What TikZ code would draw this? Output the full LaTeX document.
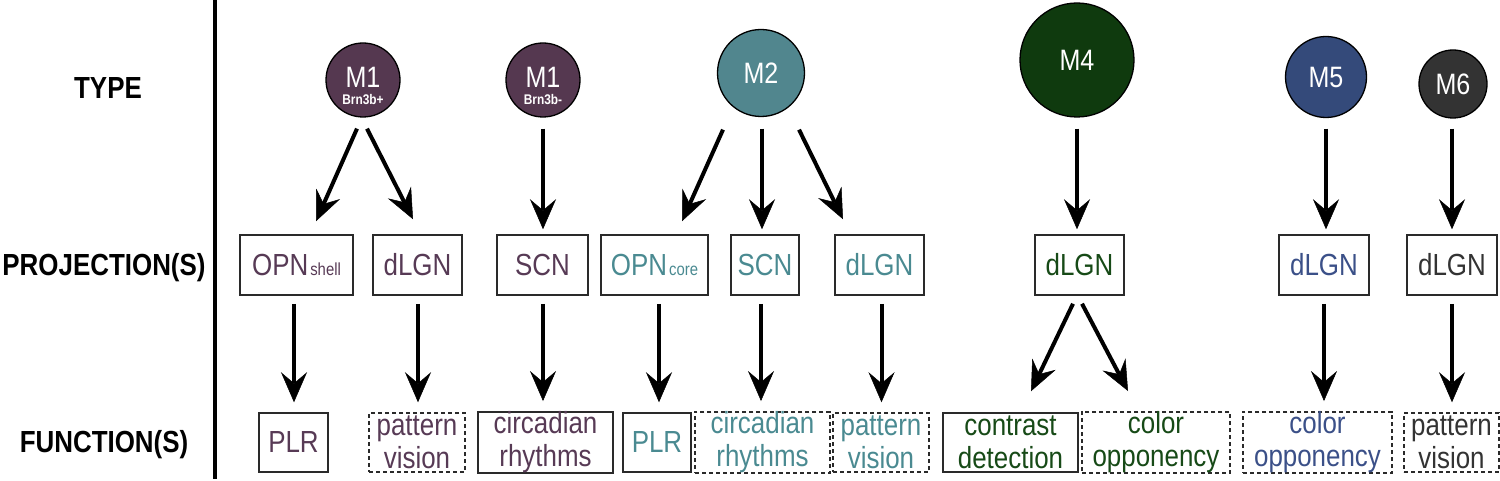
\documentclass[tikz,border=0pt]{standalone}
\usepackage{fontspec}
\setmainfont[FakeStretch=0.85]{Liberation Sans}
\usetikzlibrary{arrows.meta}
\definecolor{cM1}{HTML}{553850}
\definecolor{tM1}{HTML}{573A55}
\definecolor{cM2}{HTML}{51868E}
\definecolor{tM2}{HTML}{4A8A91}
\definecolor{cM4}{HTML}{0F3A0E}
\definecolor{tM4}{HTML}{174A17}
\definecolor{cM5}{HTML}{344A7A}
\definecolor{tM5}{HTML}{3B5088}
\definecolor{cM6}{HTML}{333333}
\definecolor{tM6}{HTML}{333333}
\definecolor{boxline}{HTML}{2A2A2A}
\begin{document}
\begin{tikzpicture}[x=1pt,y=-1pt,
  typ/.style={circle, draw=black, line width=1.3pt, inner sep=0pt, text=white, font=\fontsize{29.5}{30}\selectfont},
  mtxt/.style={text=white, inner sep=0pt, font=\fontsize{29.5}{30}\selectfont},
  sub/.style={text=white, inner sep=0pt, font=\bfseries\fontsize{14}{14}\selectfont},
  proj/.style={draw=boxline, line width=1.5pt, inner sep=0pt, minimum height=60pt, font=\fontsize{30.5}{33}\selectfont},
  func/.style={draw=boxline, line width=1.5pt, inner sep=0pt, minimum height=59pt, align=center, font=\fontsize{30.5}{33}\selectfont},
  dfunc/.style={func, dash pattern=on 4pt off 3pt},
  arr/.style={line width=4pt, -{Stealth[length=30pt,width=26pt,inset=11pt,line width=0.5pt]}},
  lab/.style={inner sep=0pt, font=\bfseries\fontsize{30.5}{31}\selectfont}
]
\useasboundingbox (0,0) rectangle (1500,481);

% left labels and separator
\node[lab] (ltype) at (108,88) {TYPE};
\node[lab] (lproj) at (104,268) {PROJECTION(S)};
\node[lab] (lfunc) at (104,445) {FUNCTION(S)};
\coordinate (sepT) at (215,0);
\coordinate (sepB) at (215,479);
\draw[line width=3.5pt] (sepT) -- (sepB);

% type circles
\node[typ, fill=cM1, minimum size=74pt] (m1a) at (363,80) {};
\node[mtxt] (m1at) at (363,77) {M1};
\node[sub] (m1as) at (363,100) {Brn3b+};
\node[typ, fill=cM1, minimum size=74pt] (m1b) at (543,80) {};
\node[mtxt] (m1bt) at (543,77) {M1};
\node[sub] (m1bs) at (543,100) {Brn3b-};
\node[typ, fill=cM2, minimum size=87pt] (m2) at (761,73) {M2};
\node[typ, fill=cM4, minimum size=114pt] (m4) at (1077,60) {M4};
\node[typ, fill=cM5, minimum size=81pt] (m5) at (1326,77) {M5};
\node[typ, fill=cM6, minimum size=68pt] (m6) at (1453,84) {M6};

% projection boxes
\node[proj, text=tM1, minimum width=113pt] (p1) at (296.5,265) {OPN\kern2pt{\fontsize{17.5}{18}\selectfont shell}};
\node[proj, text=tM1, minimum width=89pt] (p2) at (417.5,265) {dLGN};
\node[proj, text=tM1, minimum width=91pt] (p3) at (542.5,265) {SCN};
\node[proj, text=tM2, minimum width=107pt] (p4) at (654.5,265) {OPN\kern2pt{\fontsize{17.5}{18}\selectfont core}};
\node[proj, text=tM2, minimum width=68pt] (p5) at (765,265) {SCN};
\node[proj, text=tM2, minimum width=89pt] (p6) at (879.5,265) {dLGN};
\node[proj, text=tM4, minimum width=89pt] (p7) at (1079.5,265) {dLGN};
\node[proj, text=tM5, minimum width=90pt] (p8) at (1324,265) {dLGN};
\node[proj, text=tM6, minimum width=90pt] (p9) at (1452,265) {dLGN};

% function boxes
\node[func, text=tM1, minimum width=69pt] (f1) at (293.5,442.5) {PLR};
\node[dfunc, text=tM1, minimum width=96pt] (f2) at (417,442.5) {pattern\\vision};
\node[func, text=tM1, minimum width=135pt] (f3) at (545.5,442.5) {circadian\\rhythms};
\node[func, text=tM2, minimum width=68pt] (f4) at (657,442.5) {PLR};
\node[dfunc, text=tM2, minimum width=135pt] (f5) at (762.5,442.5) {circadian\\rhythms};
\node[dfunc, text=tM2, minimum width=96pt] (f6) at (881,442.5) {pattern\\vision};
\node[func, text=tM4, minimum width=135pt] (f7) at (1010.5,442.5) {contrast\\detection};
\node[dfunc, text=tM4, minimum width=148pt] (f8) at (1156,442.5) {color\\opponency};
\node[dfunc, text=tM5, minimum width=149pt] (f9) at (1317.5,442.5) {color\\opponency};
\node[dfunc, text=tM6, minimum width=95pt] (f10) at (1451.5,442.5) {pattern\\vision};

% type -> projection arrows
\draw[arr] ([shift={(-6,11)}]m1a.south) -- ([shift={(19.5,-13)}]p1.north);
\draw[arr] ([shift={(4,11)}]m1a.south) -- ([shift={(-4.5,-15)}]p2.north);
\draw[arr] ([shift={(0,11)}]m1b.south) -- ([shift={(0.5,-5)}]p3.north);
\draw[arr] ([shift={(-38,12.5)}]m2.south) -- ([shift={(27.5,-13)}]p4.north);
\draw[arr] ([shift={(1,11.5)}]m2.south) -- ([shift={(-3,-5)}]p5.north);
\draw[arr] ([shift={(38,12.5)}]m2.south) -- ([shift={(-36.5,-15)}]p6.north);
\draw[arr] ([shift={(0,11)}]m4.south) -- ([shift={(-2.5,-5)}]p7.north);
\draw[arr] ([shift={(0,10.5)}]m5.south) -- ([shift={(2,-5)}]p8.north);
\draw[arr] ([shift={(-1,10)}]m6.south) -- ([shift={(0,-5)}]p9.north);

% projection -> function arrows
\draw[arr] ([shift={(-2.5,8)}]p1.south) -- ([shift={(0.5,-10)}]f1.north);
\draw[arr] ([shift={(0.5,8)}]p2.south) -- ([shift={(1,-10)}]f2.north);
\draw[arr] ([shift={(0.5,8)}]p3.south) -- ([shift={(-2.5,-10)}]f3.north);
\draw[arr] ([shift={(4.5,8)}]p4.south) -- ([shift={(2,-10)}]f4.north);
\draw[arr] ([shift={(-4,8)}]p5.south) -- ([shift={(-1.5,-10)}]f5.north);
\draw[arr] ([shift={(2,8)}]p6.south) -- ([shift={(0.5,-10)}]f6.north);
\draw[arr] ([shift={(-6.5,8)}]p7.south) -- ([shift={(20.5,-21)}]f7.north);
\draw[arr] ([shift={(2.5,8)}]p7.south) -- ([shift={(-28,-20)}]f8.north);
\draw[arr] ([shift={(0,8)}]p8.south) -- ([shift={(6.5,-10)}]f9.north);
\draw[arr] ([shift={(0,8)}]p9.south) -- ([shift={(0.5,-10)}]f10.north);
\end{tikzpicture}
\end{document}
